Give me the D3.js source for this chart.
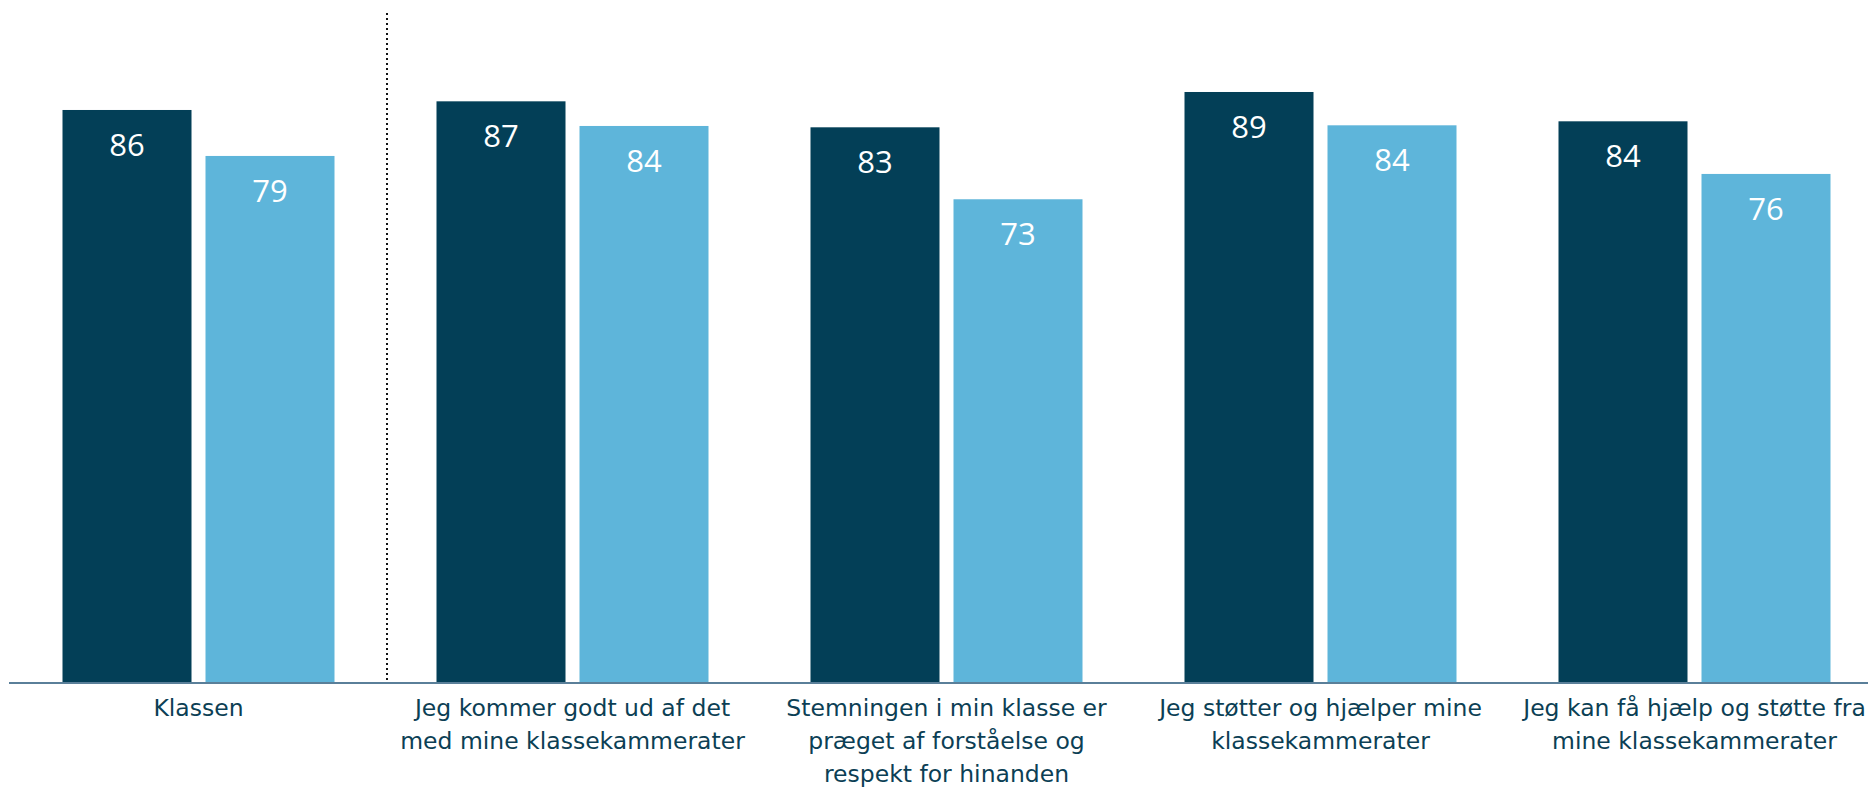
<!DOCTYPE html>
<html>
<head>
<meta charset="utf-8">
<script src="https://cdn.jsdelivr.net/npm/d3@7"></script>
<style>
  html, body { margin: 0; padding: 0; background: #ffffff; }
  svg { display: block; }
</style>
</head>
<body>
<svg id="chart" width="1868" height="791"></svg>
<script>
const categories = [
  ["Klassen"],
  ["Jeg kommer godt ud af det", "med mine klassekammerater"],
  ["Stemningen i min klasse er", "præget af forståelse og", "respekt for hinanden"],
  ["Jeg støtter og hjælper mine", "klassekammerater"],
  ["Jeg kan få hjælp og støtte fra", "mine klassekammerater"]
];
const seriesNames = ["serie1", "serie2"];
const series1 = [86.0, 87.3, 83.4, 88.7, 84.3];
const series2 = [79.1, 83.6, 72.6, 83.7, 76.4];
const seriesColors = ["#033f57", "#5eb5da"];

const svg = d3.select("#chart");
const W = 1868, H = 791;
const baseY = 683;

const keys = categories.map((c, i) => "c" + i);
const x0 = d3.scaleBand().domain(keys).range([11.5, 1881.5]).padding(0);
const x1 = d3.scaleBand().domain(seriesNames).range([51, 323]).paddingInner(14 / 143).paddingOuter(0);
const y = d3.scaleLinear().domain([0, 100]).range([baseY, baseY - 666.3]);
const fmt = d3.format(".0f");

const data = keys.map((k, i) => ({ key: k, label: categories[i], values: [series1[i], series2[i]] }));

const groups = svg.append("g").selectAll("g")
  .data(data).join("g")
  .attr("transform", d => `translate(${x0(d.key)},0)`);

groups.selectAll("rect")
  .data(d => d.values.map((v, j) => ({ s: seriesNames[j], v, j })))
  .join("rect")
  .attr("x", d => x1(d.s))
  .attr("y", d => y(d.v))
  .attr("width", x1.bandwidth())
  .attr("height", d => y(0) - y(d.v))
  .attr("fill", d => seriesColors[d.j]);

groups.selectAll("text.val")
  .data(d => d.values.map((v, j) => ({ s: seriesNames[j], v, j })))
  .join("text")
  .attr("class", "val")
  .attr("x", d => x1(d.s) + x1.bandwidth() / 2)
  .attr("y", d => y(d.v) + 46)
  .attr("text-anchor", "middle")
  .attr("fill", "#ffffff")
  .style("font-family", "'Open Sans', 'Noto Sans', sans-serif")
  .style("font-size", "31px")
  .text(d => fmt(d.v));

// axis baseline
const axis = d3.axisBottom(x0).tickSize(0).tickFormat("");
const axG = svg.append("g").attr("transform", `translate(0,${baseY})`).call(axis);
axG.select(".domain").remove();
axG.append("line").attr("x1", 9).attr("x2", W).attr("y1", 0).attr("y2", 0)
  .attr("stroke", "#5a7f99").attr("stroke-width", 2);

// category labels
groups.append("text")
  .attr("text-anchor", "middle")
  .attr("fill", "#0c3f55")
  .style("font-family", "'DejaVu Sans', sans-serif")
  .style("font-size", "23.5px")
  .selectAll("tspan")
  .data(d => d.label)
  .join("tspan")
  .attr("x", x0.bandwidth() / 2)
  .attr("y", (d, i) => 716 + i * 33)
  .text(d => d);

// dotted separator between first and second group
svg.append("line")
  .attr("x1", 387).attr("x2", 387)
  .attr("y1", 13).attr("y2", baseY)
  .attr("stroke", "#111111")
  .attr("stroke-width", 2)
  .attr("stroke-dasharray", "2,3");
</script>
</body>
</html>
